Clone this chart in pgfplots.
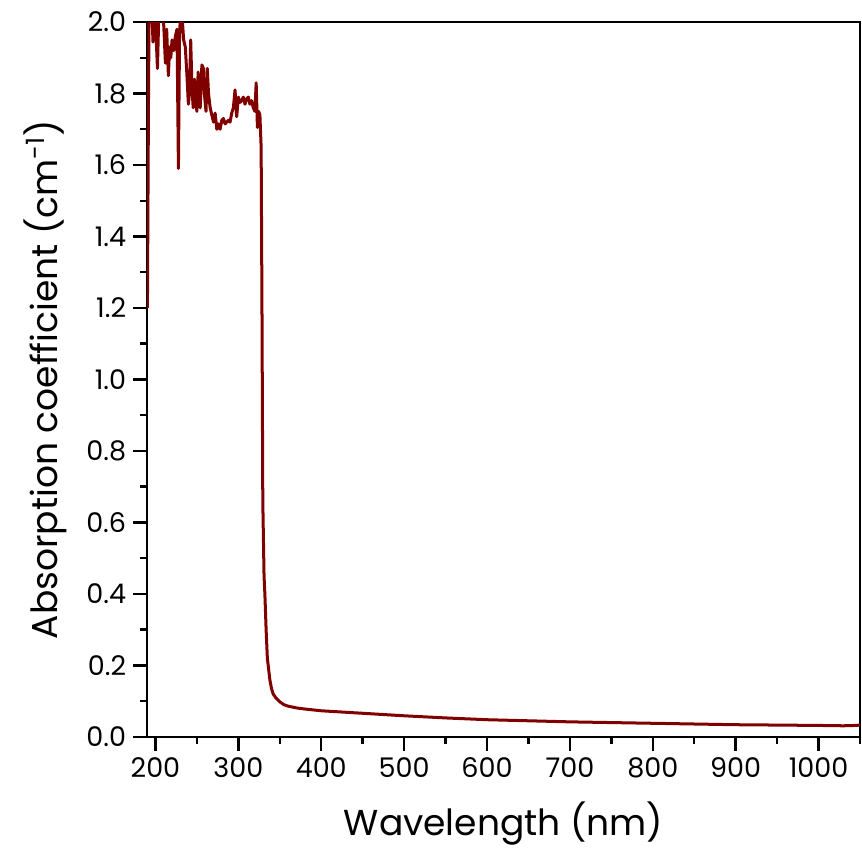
\documentclass[border=0pt]{standalone}
\usepackage{fontspec}
\setmainfont{Poppins}
\usepackage{pgfplots}
\pgfplotsset{compat=1.18}
\definecolor{curve}{RGB}{128,0,0}
\begin{document}
\begin{tikzpicture}
\begin{axis}[
  scale only axis,
  width=356pt, height=357pt,
  xmin=190, xmax=1050, ymin=0, ymax=2.0,
  axis line style={line width=1.2pt},
  every tick/.style={line width=1.2pt, black},
  tick align=outside,
  xtick pos=bottom, ytick pos=left,
  xtick={200,300,...,1000},
  minor xtick={250,350,...,1050},
  ytick={0,0.2,...,2.01},
  minor ytick={0.1,0.3,...,1.91},
  major tick length=7pt, minor tick length=3.5pt,
  /pgf/number format/assume math mode=true,
  yticklabel style={/pgf/number format/.cd, fixed, fixed zerofill, precision=1},
  xticklabel style={/pgf/number format/.cd, fixed, set thousands separator={}},
  tick label style={font=\fontsize{13.5}{14}\selectfont},
  label style={font=\fontsize{18}{20}\selectfont},
  xlabel={Wavelength (nm)},
  ylabel={Absorption coefficient (cm\textsuperscript{-1})},
  xlabel style={yshift=-5pt},
  ylabel style={yshift=3pt},
]
\addplot[color=curve, line width=1.5pt, line join=round] coordinates {
(190.3,1.20) (191.5,1.75) (192.5,2.10) (194,2.15) (195.5,2.05) (197,1.944)
(199,2.05) (201,1.95) (202.4,1.87) (204,2.02) (206,2.10) (208,2.05)
(210,1.99) (212,1.885) (213.5,1.98) (215.6,1.85) (217,1.93) (218.5,1.90)
(220,1.95) (222,1.92) (224,1.96) (226,1.98) (227.7,1.59) (229,1.95)
(230.5,2.05) (232,2.02) (234,1.95) (236,1.93) (238,1.85) (239.7,1.77)
(241,1.80) (242.5,1.95) (244,1.82) (245.5,1.76) (247,1.84) (248.5,1.78)
(250,1.75) (251.5,1.86) (253,1.80) (254,1.76) (256,1.88) (257.8,1.87)
(259,1.80) (261,1.75) (262.5,1.87) (264,1.80) (266,1.76) (268,1.74)
(270,1.72) (272,1.745) (274,1.70) (276,1.715) (278,1.70) (280,1.725)
(282,1.73) (284,1.715) (286,1.72) (288,1.725) (290,1.72) (292,1.745)
(294,1.76) (296,1.81) (298,1.735) (300,1.79) (302,1.775) (304,1.78)
(306,1.79) (308,1.77) (310,1.785) (312,1.79) (314,1.77) (316,1.78)
(318,1.76) (320,1.75) (321.5,1.83) (323,1.705) (324.5,1.75) (326,1.74)
(327.5,1.65) (328.5,1.20) (329.5,0.66) (331,0.45) (332,0.40) (333.5,0.30)
(335,0.22) (336,0.20) (338,0.16) (340,0.135) (342,0.12) (345,0.11)
(350,0.098) (355,0.090) (360,0.086) (370,0.081) (380,0.078) (400,0.073)
(450,0.066) (500,0.059) (550,0.053) (600,0.048) (650,0.045) (700,0.042)
(750,0.040) (800,0.038) (850,0.036) (900,0.034) (950,0.033) (1000,0.032)
(1030,0.031) (1045,0.032) (1050,0.033)
};
\end{axis}
\pgfresetboundingbox
\path[use as bounding box] ([shift={(-73.5pt,-57pt)}]current axis.south west) rectangle ([shift={(1pt,11pt)}]current axis.north east);
\end{tikzpicture}
\end{document}
